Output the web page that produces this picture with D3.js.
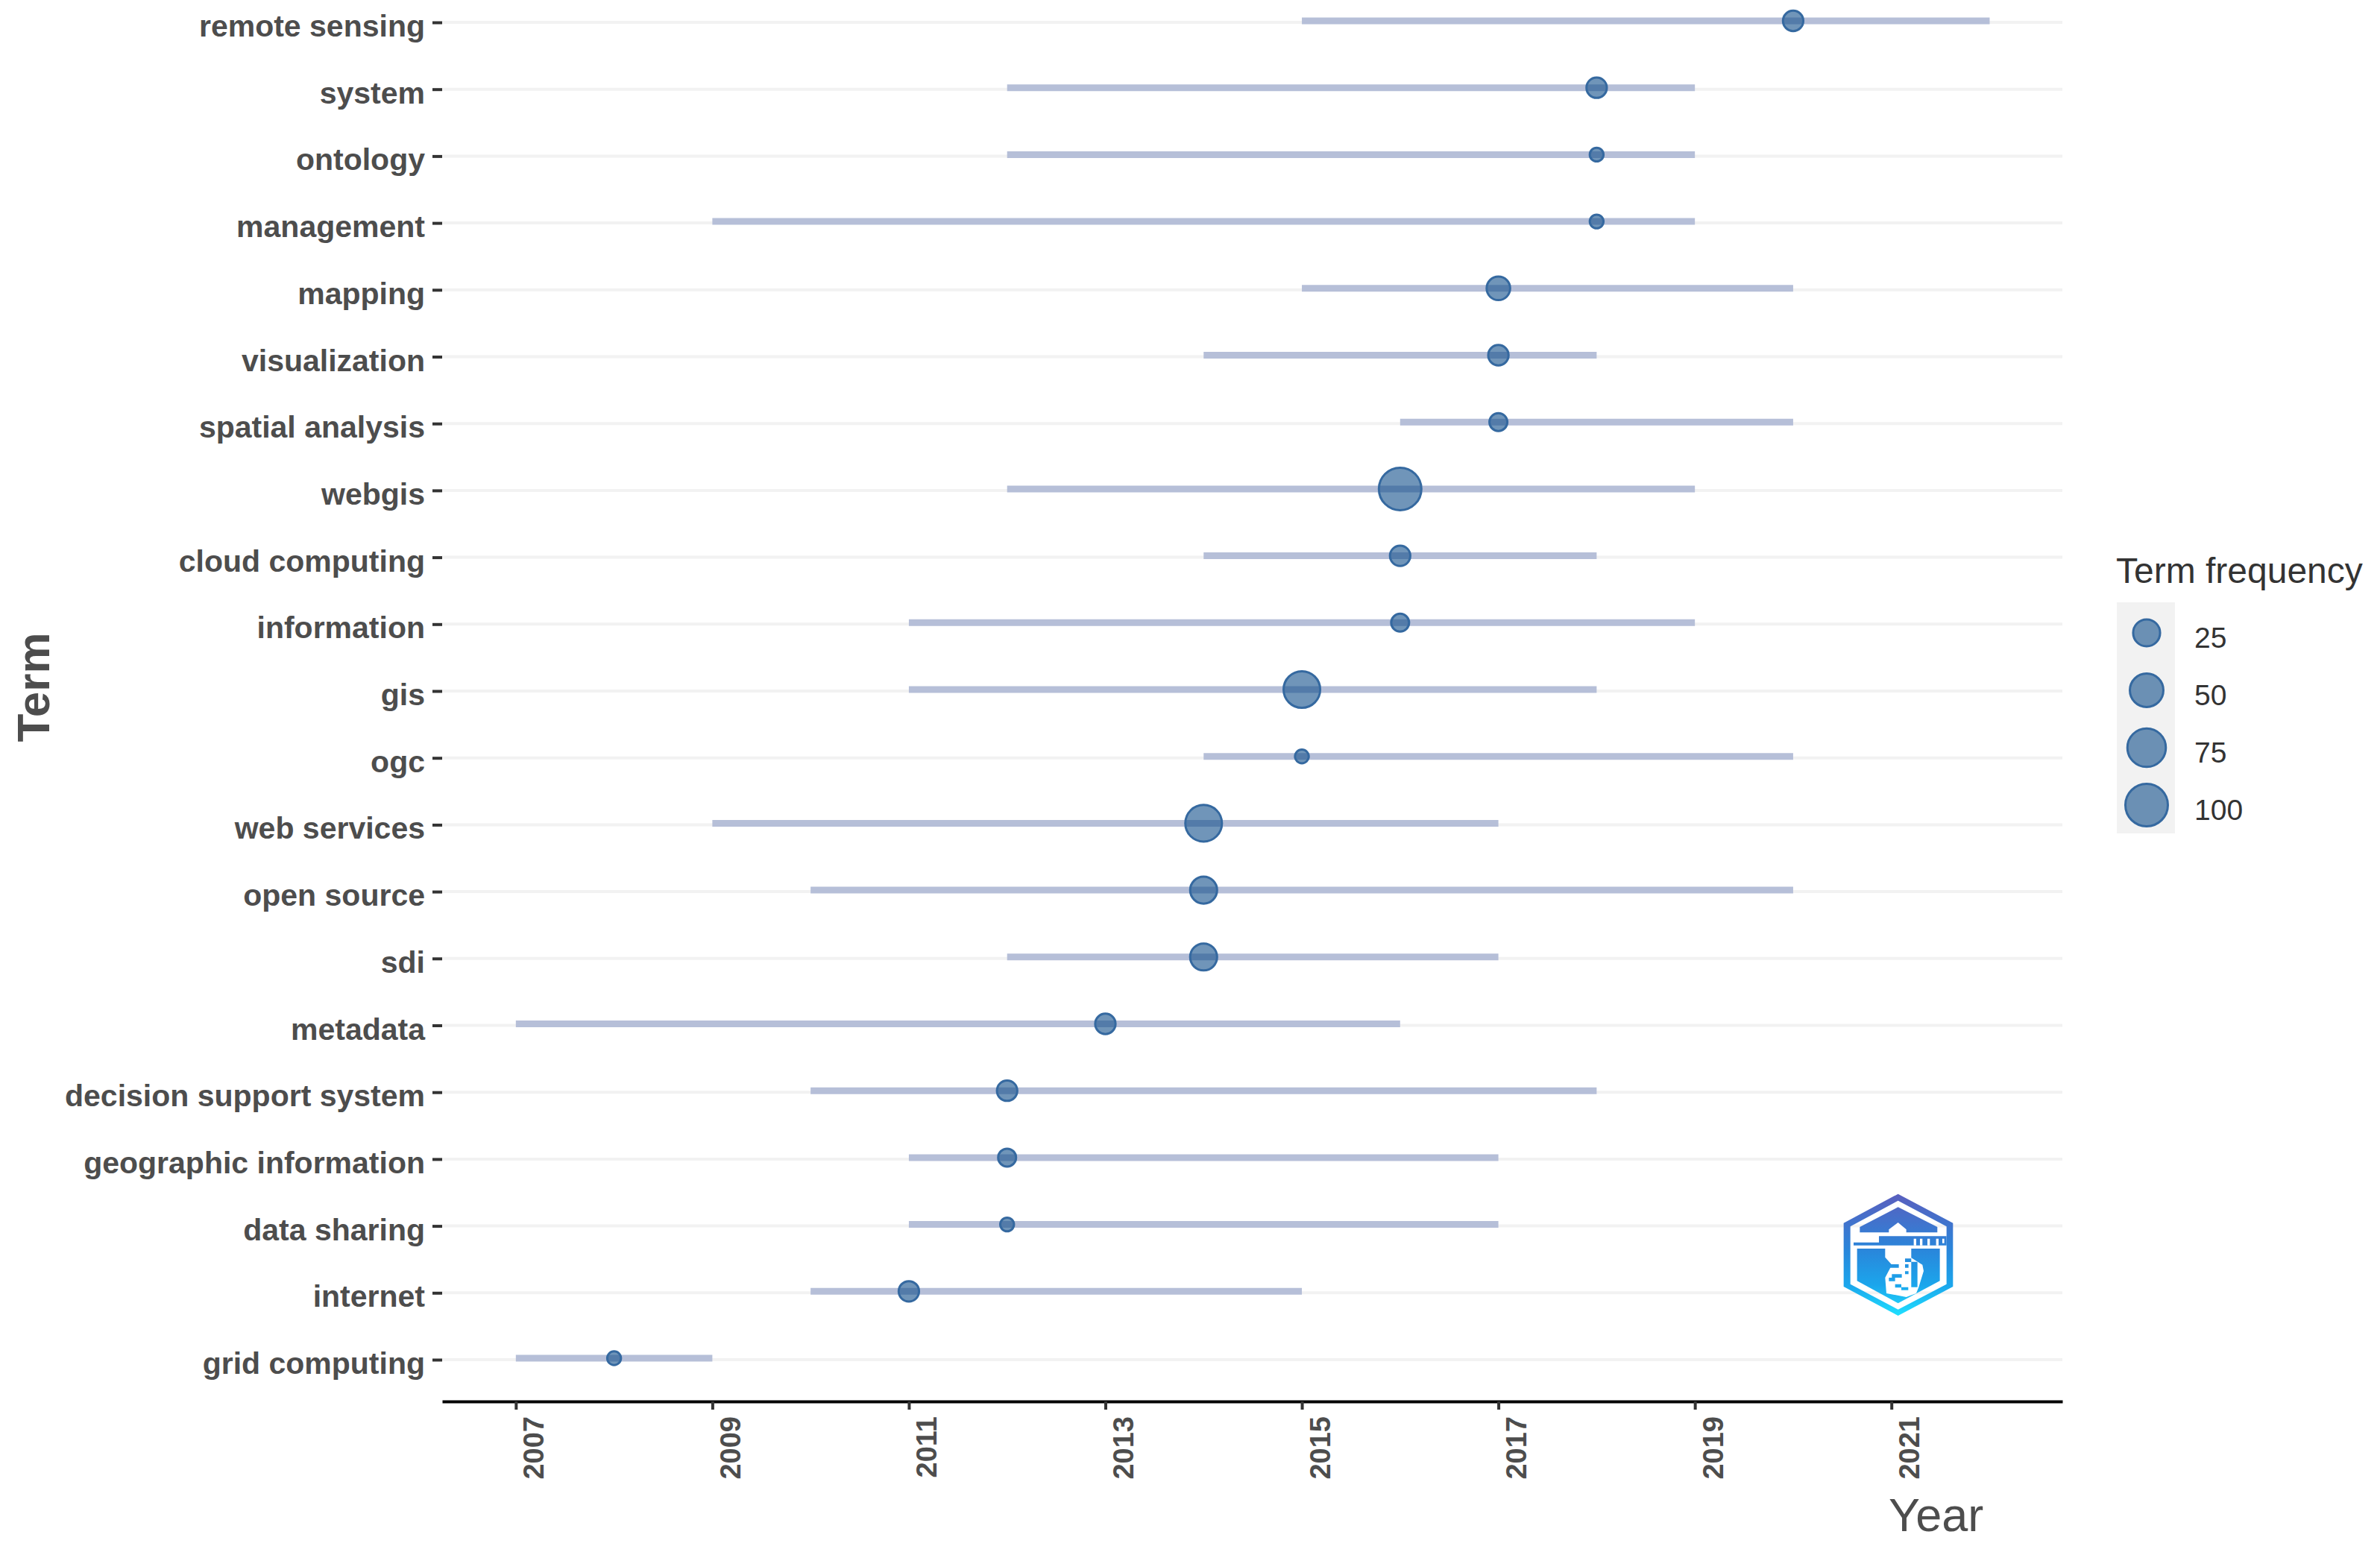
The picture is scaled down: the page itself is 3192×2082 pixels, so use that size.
<!DOCTYPE html>
<html>
<head>
<meta charset="utf-8">
<script src="https://cdn.jsdelivr.net/npm/d3@7"></script>
<style>
  html, body { margin: 0; padding: 0; background: #fff; }
  text { font-family: "Liberation Sans", Arial, sans-serif; }
</style>
</head>
<body>
<svg id="chart"></svg>
<script>
//Data, top row first
const terms = ["remote sensing", "system", "ontology", "management", "mapping", "visualization",
  "spatial analysis", "webgis", "cloud computing", "information", "gis", "ogc", "web services",
  "open source", "sdi", "metadata", "decision support system", "geographic information",
  "data sharing", "internet", "grid computing"];
const yearStart = [2015, 2012, 2012, 2009, 2015, 2014, 2016, 2012, 2014, 2011, 2011, 2014, 2009, 2010, 2012, 2007, 2010, 2011, 2011, 2010, 2007];
const yearMedian = [2020, 2018, 2018, 2018, 2017, 2017, 2017, 2016, 2016, 2016, 2015, 2015, 2014, 2014, 2014, 2013, 2012, 2012, 2012, 2011, 2008];
const yearEnd = [2022, 2019, 2019, 2019, 2020, 2018, 2020, 2019, 2018, 2019, 2018, 2020, 2017, 2020, 2017, 2016, 2018, 2017, 2017, 2015, 2009];
const termFreq = [10, 10, 5, 5, 16, 10, 7, 100, 10, 7, 65, 5, 65, 25, 25, 10, 10, 7, 5, 10, 5];
const xTicks = [2007, 2009, 2011, 2013, 2015, 2017, 2019, 2021];
const legendFreq = [25, 50, 75, 100];

const rows = terms.map((t, i) => ({term: t, start: yearStart[i], median: yearMedian[i], end: yearEnd[i], freq: termFreq[i]}));

const svgWidth = 3192;
const svgHeight = 2082;
const svg = d3.select("#chart")
    .attr("width", svgWidth)
    .attr("height", svgHeight)
    .style("display", "block");

const textColor = "#4d4d4d";

//Scales
const scaleYear = d3.scaleLinear()
    .domain([2006.25, 2022.74])
    .range([593, 2766]);
const scaleTerm = d3.scalePoint()
    .domain(terms)
    .range([28, 1822]);
// radius grows with the root of the frequency above the smallest one
const minFreq = 5;
const scaleRadius = d3.scaleSqrt()
    .domain([0, 100 - minFreq])
    .range([10.7, 30]);
const radius = f => scaleRadius(f - minFreq);

//Grid lines
svg.append("g")
    .attr("id", "gridG")
    .selectAll("line")
    .data(terms)
    .join("line")
    .attr("x1", scaleYear.range()[0])
    .attr("x2", scaleYear.range()[1])
    .attr("y1", d => scaleTerm(d) + 2)
    .attr("y2", d => scaleTerm(d) + 2)
    .style("stroke", "#f2f2f2")
    .style("stroke-width", 4);

//Axis
const yAxis = d3.axisLeft(scaleTerm)
    .tickSizeInner(13)
    .tickSizeOuter(0)
    .tickPadding(10);
const yAxisG = svg.append("g")
    .attr("id", "yAxisG")
    .attr("transform", `translate(${scaleYear.range()[0]}, 2)`)
    .call(yAxis);
yAxisG.select(".domain").remove();
yAxisG.selectAll("line")
    .style("stroke", "#333333")
    .style("stroke-width", 4);
yAxisG.selectAll("text")
    .attr("dy", "18.5")
    .style("font-size", "41px")
    .style("font-weight", "bold")
    .style("fill", textColor);

const xAxis = d3.axisBottom(scaleYear)
    .tickValues(xTicks)
    .tickFormat(d3.format("d"))
    .tickSizeInner(11)
    .tickSizeOuter(0);
const xAxisG = svg.append("g")
    .attr("id", "xAxisG")
    .attr("transform", "translate(0, 1880)")
    .call(xAxis);
xAxisG.select(".domain")
    .style("stroke", "#000000")
    .style("stroke-width", 4);
xAxisG.selectAll("line")
    .style("stroke", "#333333")
    .style("stroke-width", 4);
xAxisG.selectAll("text")
    .attr("transform", "translate(37, 20) rotate(-90)")
    .attr("x", 0)
    .attr("y", 0)
    .attr("dy", 0)
    .style("text-anchor", "end")
    .style("font-size", "38px")
    .style("font-weight", "bold")
    .style("fill", textColor);

//Segments
svg.append("g")
    .attr("id", "segmentsG")
    .selectAll("line")
    .data(rows)
    .join("line")
    .attr("x1", d => scaleYear(d.start))
    .attr("x2", d => scaleYear(d.end))
    .attr("y1", d => scaleTerm(d.term))
    .attr("y2", d => scaleTerm(d.term))
    .style("stroke", "#b6bfd8")
    .style("stroke-width", 9);

//Circles
const pointFill = "#104e8b";
const pointEdge = "#3569a0";
svg.append("g")
    .attr("id", "circlesG")
    .selectAll("circle")
    .data(rows)
    .join("circle")
    .attr("cx", d => scaleYear(d.median))
    .attr("cy", d => scaleTerm(d.term))
    .attr("r", d => radius(d.freq) - 1.5)
    .style("fill", pointFill)
    .style("fill-opacity", 0.6)
    .style("stroke", pointEdge)
    .style("stroke-width", 3);

//Axis titles
svg.append("text")
    .attr("transform", "translate(66, 922) rotate(-90)")
    .style("text-anchor", "middle")
    .style("font-size", "62px")
    .style("font-weight", "bold")
    .style("fill", textColor)
    .text("Term");
svg.append("text")
    .attr("x", 2533)
    .attr("y", 2054)
    .style("font-size", "63px")
    .style("fill", textColor)
    .text("Year");

//Legend
const legendG = svg.append("g").attr("id", "legendG");
legendG.append("text")
    .attr("x", 2838)
    .attr("y", 782)
    .style("font-size", "48px")
    .style("fill", "#333333")
    .text("Term frequency");
legendG.append("rect")
    .attr("x", 2839)
    .attr("y", 808)
    .attr("width", 78)
    .attr("height", 310)
    .style("fill", "#f2f2f2");
const scaleLegend = d3.scalePoint()
    .domain(legendFreq)
    .range([849, 1080]);
legendG.selectAll("circle")
    .data(legendFreq)
    .join("circle")
    .attr("cx", 2879)
    .attr("cy", d => scaleLegend(d))
    .attr("r", d => radius(d) - 1.5)
    .style("fill", pointFill)
    .style("fill-opacity", 0.6)
    .style("stroke", pointEdge)
    .style("stroke-width", 3);
legendG.selectAll("text.legend-label")
    .data(legendFreq)
    .join("text")
    .attr("class", "legend-label")
    .attr("x", 2943)
    .attr("y", d => scaleLegend(d) + 20)
    .style("font-size", "39px")
    .style("fill", "#333333")
    .text(d => d);

//Logo, drawn in a 3x grid
const defs = svg.append("defs");
const grad = defs.append("linearGradient")
    .attr("id", "logoGrad")
    .attr("gradientUnits", "userSpaceOnUse")
    .attr("x1", 0).attr("x2", 0)
    .attr("y1", 125).attr("y2", 615);
grad.append("stop").attr("offset", "0").attr("stop-color", "#5a5fbe");
grad.append("stop").attr("offset", "0.45").attr("stop-color", "#2a85da");
grad.append("stop").attr("offset", "0.75").attr("stop-color", "#1ba6ec");
grad.append("stop").attr("offset", "1").attr("stop-color", "#1fe0ff");

const logoG = svg.append("g")
    .attr("id", "logoG")
    .attr("transform", "translate(2400, 1560) scale(0.3333)");
const logoBlue = [
  "M437,125 L658,242 L658,498 L437,615 L218,498 L218,242 Z M437,152 L245,256 L245,488 L437,590 L632,488 L632,256 Z",
  "M437,178 L595,258 L595,280 L283,280 L283,258 Z",
  "M258,320 L360,320 L360,295 L632,295 L632,332 L258,332 Z",
  "M272,345 L605,345 L605,475 L437,565 L272,475 Z"
];
const logoWhite = [
  "M437,240 L470,268 L470,292 L400,292 L400,268 Z",
  "M385,340 L490,340 L490,382 L535,410 L540,435 L520,500 L510,525 L470,540 L390,525 L385,462 L412,410 L385,380 Z",
  "M500,305 h10 v27 h-10 Z M525,305 h10 v27 h-10 Z M555,305 h10 v27 h-10 Z M590,305 h10 v27 h-10 Z M615,305 h8 v18 h-8 Z"
];
logoG.selectAll("path.blue")
    .data(logoBlue)
    .join("path")
    .attr("class", "blue")
    .attr("d", d => d)
    .attr("fill-rule", "evenodd")
    .style("fill", "url(#logoGrad)");
logoG.selectAll("path.white")
    .data(logoWhite)
    .join("path")
    .attr("class", "white")
    .attr("d", d => d)
    .style("fill", "#ffffff");
// the small blue marks inside the white shape
logoG.append("path")
    .attr("d", "M400,408 h40 v14 h-40 Z M465,385 h25 v14 h-25 Z M490,398 h25 v60 h-25 Z M412,448 h40 v14 h-40 Z M465,408 h14 v14 h-14 Z M465,436 h14 v12 h-14 Z M400,462 h25 v14 h-25 Z M490,450 h25 v50 h-25 Z M425,488 h25 v14 h-25 Z M450,500 h28 v12 h-28 Z")
    .style("fill", "url(#logoGrad)");
</script>
</body>
</html>
